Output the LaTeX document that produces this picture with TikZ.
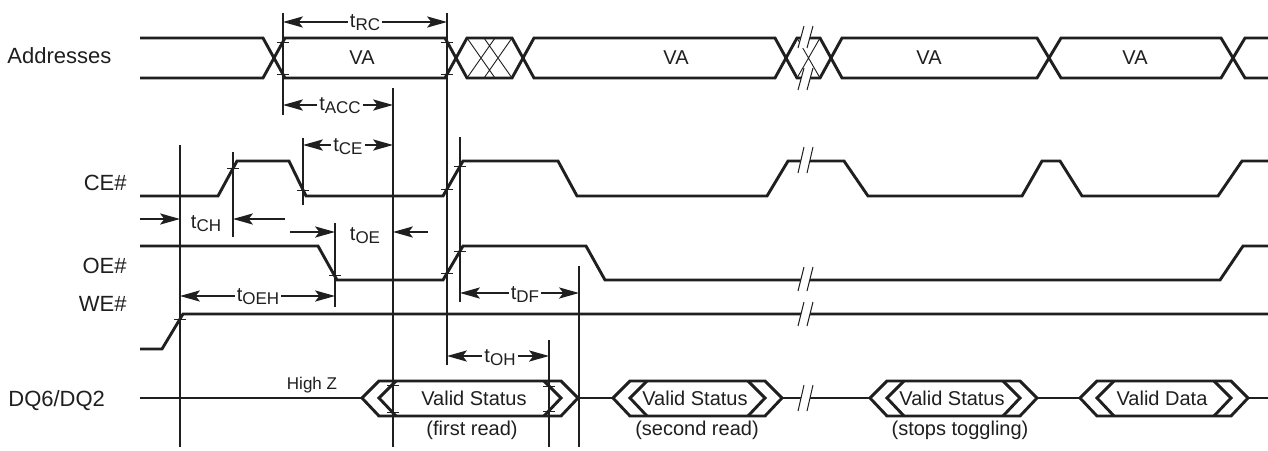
\documentclass[tikz,border=0pt]{standalone}
\usepackage{fontspec}
\setmainfont{Liberation Sans}
\usetikzlibrary{arrows.meta}
\newcommand{\tsub}[1]{t\raisebox{-1.8pt}{\fontsize{8.5}{9}\selectfont #1}}
\newcommand{\brkmark}[2]{%
  \fill[white] ({804},{#1-#2}) -- ({813},{#1-#2}) -- ({807},{#1+#2}) -- ({798},{#1+#2}) -- cycle;
  \draw[brkln] ({804},{#1-#2}) -- ({798},{#1+#2});
  \draw[brkln] ({813},{#1-#2}) -- ({807},{#1+#2});}
\newcommand{\dqbox}[2]{%
  \draw[sig] (#1,398) -- ({#1+17},381) -- ({#2-17},381) -- (#2,398) -- ({#2-17},416) -- ({#1+17},416) -- cycle;
  \draw[sig] ({#1+34},381) -- ({#1+17},398) -- ({#1+34},416);
  \draw[sig] ({#2-34},381) -- ({#2-17},398) -- ({#2-34},416);}
\newcommand{\tk}[2]{\draw[tickln] ({#1-6},#2) -- ({#1+6},#2);}
\begin{document}
\begin{tikzpicture}[x=0.5pt,y=-0.5pt,
  sig/.style={line width=1.45pt, black!88},
  thinln/.style={line width=0.55pt, black!88},
  hatchln/.style={line width=0.45pt, black!88},
  brkln/.style={line width=0.5pt, black!88},
  tickln/.style={line width=0.5pt, black!88},
  ahead/.tip={Stealth[length=10pt,width=5.6pt,inset=2.2pt]},
  dimln/.style={line width=0.6pt, black!88, ahead-ahead},
  onearr/.style={line width=0.6pt, black!88, -ahead},
  tlab/.style={fill=white, inner sep=1pt, font=\fontsize{10}{12}\selectfont, anchor=base, text=black!88},
  signame/.style={font=\fontsize{11}{13}\selectfont, text=black!88, inner sep=0pt},
  vtext/.style={font=\fontsize{10}{12}\selectfont, text=black!88}
]
\fill[white] (0,0) rectangle (1268,450);
\useasboundingbox (0,0) rectangle (1268,450);

% signal names
\node[signame, anchor=base west] (nAddr) at (7,63) {Addresses};
\node[signame, anchor=base east] (nCE) at (127,190) {CE\#};
\node[signame, anchor=base east] (nOE) at (127,273) {OE\#};
\node[signame, anchor=base east] (nWE) at (127,311) {WE\#};
\node[signame, anchor=base west] (nDQ) at (8,406) {DQ6/DQ2};

% vertical reference lines
\draw[thinln] (180,145) -- (180,447);
\draw[thinln] (233,152) -- (233,237);
\draw[thinln] (283,13) -- (283,115);
\draw[thinln] (303,138) -- (303,205);
\draw[thinln] (335,223) -- (335,307);
\draw[thinln] (393,88) -- (393,447);
\draw[thinln] (447,13) -- (447,365);
\draw[thinln] (460,137) -- (460,302);
\draw[thinln] (549,340) -- (549,447);
\draw[thinln] (579,266) -- (579,447);

% Addresses bus
\draw[sig] (140,38) -- (263,38) -- (285,78) -- (445,78) -- (467,38) -- (512,38) -- (534,78) -- (775,78) -- (797,38) -- (820,38) -- (842,78) -- (1037,78) -- (1061,38) -- (1221,38) -- (1245,78) -- (1268,78);
\draw[sig] (140,78) -- (263,78) -- (285,38) -- (445,38) -- (467,78) -- (512,78) -- (534,38) -- (775,38) -- (797,78) -- (820,78) -- (842,38) -- (1037,38) -- (1061,78) -- (1221,78) -- (1245,38) -- (1268,38);
\draw[hatchln] (467,38) -- (495,78) (467,78) -- (495,38) (484,38) -- (512,78) (484,78) -- (512,38);
\draw[hatchln] (797,38) -- (820,78) (797,78) -- (820,38);
\node[vtext] (va1) at (362,58) {VA};
\node[vtext] (va2) at (676,58) {VA};
\node[vtext] (va3) at (929,58) {VA};
\node[vtext] (va4) at (1135,58) {VA};

% CE#
\draw[sig] (140,196) -- (218,196) -- (237,161) -- (289,161) -- (306,196) -- (443,196) -- (463,161) -- (558,161) -- (577,196) -- (767,196) -- (788,161) -- (844,161) -- (868,196) -- (1022,196) -- (1042,161) -- (1060,161) -- (1082,196) -- (1218,196) -- (1242,161) -- (1268,161);
% OE#
\draw[sig] (140,246) -- (318,246) -- (337,280) -- (443,280) -- (463,246) -- (586,246) -- (605,280) -- (1220,280) -- (1243,246) -- (1268,246);
% WE#
\draw[sig] (140,349) -- (162,349) -- (183,314) -- (1268,314);
% DQ6/DQ2
\draw[sig] (140,398) -- (362,398);
\draw[sig] (578,398) -- (613,398);
\draw[sig] (782,398) -- (870,398);
\draw[sig] (1037,398) -- (1080,398);
\draw[sig] (1248,398) -- (1268,398);
\dqbox{362}{578}
\dqbox{613}{782}
\dqbox{870}{1037}
\dqbox{1080}{1248}
\node[vtext] (vs1) at (474,398) {Valid Status};
\node[vtext] (vs2) at (695,398) {Valid Status};
\node[vtext] (vs3) at (952,398) {Valid Status};
\node[vtext] (vd4) at (1162,398) {Valid Data};
\node[vtext] (fr) at (472,430) {(first read)};
\node[vtext] (sr) at (697,430) {(second read)};
\node[vtext] (st) at (960,430) {(stops toggling)};
\node[font=\fontsize{8.5}{10}\selectfont, text=black!88] (hz) at (312,385) {High Z};

% break marks
\brkmark{37}{11}
\brkmark{79}{11}
\brkmark{160}{13}
\brkmark{279}{12}
\brkmark{314}{12}
\brkmark{398}{13}

% ticks
\tk{283}{42} \tk{283}{74} \tk{447}{42} \tk{447}{74}
\tk{233}{168} \tk{303}{190} \tk{447}{189} \tk{460}{166}
\tk{335}{275} \tk{447}{273} \tk{460}{251}
\tk{180}{319}
\tk{393}{385} \tk{393}{412} \tk{549}{386} \tk{549}{411}

% timing dimensions
\coordinate (rcA) at (283,22); \coordinate (rcB) at (447,22);
\draw[dimln] (rcA) -- (rcB);
\node[tlab] (lrc) at (365,27) {\tsub{RC}};
\coordinate (accA) at (283,105); \coordinate (accB) at (393,105);
\draw[dimln] (accA) -- (accB);
\node[tlab] (lacc) at (340,110) {\tsub{ACC}};
\coordinate (ceA) at (303,145); \coordinate (ceB) at (393,145);
\draw[dimln] (ceA) -- (ceB);
\node[tlab] (lce) at (348,151) {\tsub{CE}};
\coordinate (chA0) at (140,219); \coordinate (chA) at (180,219);
\coordinate (chB0) at (285,219); \coordinate (chB) at (233,219);
\draw[onearr] (chA0) -- (chA);
\draw[onearr] (chB0) -- (chB);
\node[tlab, fill=none] (lch) at (206,228) {\tsub{CH}};
\coordinate (oeA0) at (290,232); \coordinate (oeA) at (335,232);
\coordinate (oeB0) at (428,232); \coordinate (oeB) at (393,232);
\draw[onearr] (oeA0) -- (oeA);
\draw[onearr] (oeB0) -- (oeB);
\node[tlab, fill=none] (loe) at (365,240) {\tsub{OE}};
\coordinate (oehA) at (180,296); \coordinate (oehB) at (335,296);
\draw[dimln] (oehA) -- (oehB);
\node[tlab] (loeh) at (258,301) {\tsub{OEH}};
\coordinate (dfA) at (460,293); \coordinate (dfB) at (579,293);
\draw[dimln] (dfA) -- (dfB);
\node[tlab] (ldf) at (525,299) {\tsub{DF}};
\coordinate (ohA) at (447,356); \coordinate (ohB) at (549,356);
\draw[dimln] (ohA) -- (ohB);
\node[tlab] (loh) at (500,362) {\tsub{OH}};
\end{tikzpicture}
\end{document}
